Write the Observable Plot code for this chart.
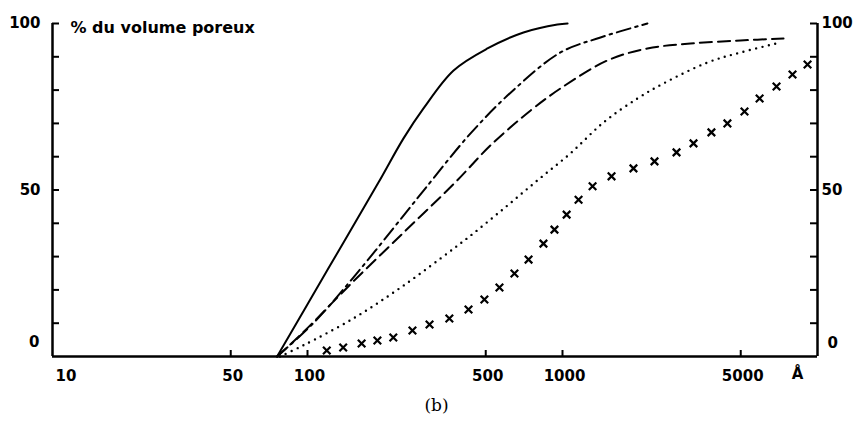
<!DOCTYPE html>
<html>
<head>
<meta charset="utf-8">
<script src="https://cdn.jsdelivr.net/npm/d3@7"></script>
<script src="https://cdn.jsdelivr.net/npm/@observablehq/plot@0.6"></script>
<style>
  html, body { margin: 0; padding: 0; background: #fff; }
  #chart svg { display: block; }
  #caption { width: 855px; margin-top: 4px; line-height: 22px; font-family: "DejaVu Serif", "Liberation Serif", serif; font-size: 17px; text-align: center; padding-left: 18px; box-sizing: border-box; }
</style>
</head>
<body>
<div id="chart"></div>
<div id="caption">(b)</div>
<script>
// Pore diameter (Å) vs cumulative % of pore volume
const courbePleine = [[76,0],[120,26.1],[190,52.3],[238,65.5],[285,74.5],[374,85.9],[508,92.5],[703,97.3],[955,99.7],[1047,100]];
const courbeMixte = [[76,0],[106,10.2],[157,25.2],[238,42.3],[290,50.5],[436,67.0],[640,79.9],[982,91.3],[1409,95.8],[2153,100]];
const courbeTirets = [[76,0],[96,7.2],[147,21.6],[238,37.2],[380,52.3],[522,63.4],[750,73.9],[982,80.5],[1500,88.9],[2153,92.5],[3175,94],[4990,94.9],[7360,95.5]];
const courbePoints = [[78,0],[96,3.3],[151,11.4],[238,21.3],[374,32.4],[436,36.3],[588,44.4],[798,52.9],[1074,61.0],[1449,70.3],[1968,77.5],[2489,82.0],[3704,88.3],[4990,91.3],[7160,94.3]];
const croix = [[119,1.8],[138,2.7],[163,3.9],[188,4.8],[217,5.7],[258,7.8],[301,9.6],[360,11.4],[428,14.1],[494,17.1],[566,20.7],[648,24.9],[736,29.1],[842,33.9],[930,38.1],[1038,42.6],[1156,47.1],[1312,51.1],[1557,54.1],[1898,56.5],[2295,58.6],[2800,61.3],[3264,64.0],[3837,67.3],[4433,70.0],[5172,73.6],[5928,77.5],[6907,81.1],[7980,84.7],[9140,87.7]];

const xTicks = [50, 100, 500, 1000, 5000];
const xTickLabels = ["50", "100", "500", "1000", "5000"];
const yTicks = [10, 20, 30, 40, 50, 60, 70, 80, 90, 100];
const yLabels = [50, 100];
const yTitle = "% du volume poreux";
const xUnit = "Å";

const toRows = arr => arr.map(([x, y]) => ({x, y}));
const font = {fontFamily: "DejaVu Sans, sans-serif", fontWeight: "bold", fontSize: 15, fill: "black"};
const frameW = 855 - 52 - 38;
const frameH = 390 - 23 - 34;

const chart = Plot.plot({
  width: 855,
  height: 390,
  marginLeft: 52,
  marginRight: 38,
  marginTop: 23,
  marginBottom: 34,
  x: {type: "log", domain: [10, 10000], axis: null},
  y: {domain: [0, 100], axis: null},
  marks: [
    // frame axes
    Plot.ruleX([10, 10000], {stroke: "black", strokeWidth: 2.5}),
    Plot.ruleY([0], {stroke: "black", strokeWidth: 2.5}),
    // inward ticks
    Plot.tickY(yTicks, {y: d => d, insetRight: frameW - 7, stroke: "black", strokeWidth: 2}),
    Plot.tickY(yTicks, {y: d => d, insetLeft: frameW - 7, stroke: "black", strokeWidth: 2}),
    Plot.tickX(xTicks, {x: d => d, insetTop: frameH - 6, stroke: "black", strokeWidth: 2}),
    // x labels
    Plot.text(xTicks, {x: d => d, text: (d, i) => xTickLabels[i], frameAnchor: "bottom", dy: 24, dx: 2, ...font}),
    Plot.text(["10"], {x: 10, text: d => d, frameAnchor: "bottom", dy: 24, dx: 3, textAnchor: "start", ...font}),
    Plot.text([xUnit], {x: 10000, text: d => d, frameAnchor: "bottom", dy: 22, dx: -20, ...font}),
    // y labels left
    Plot.text(yLabels, {y: d => d, text: d => String(d), frameAnchor: "left", dx: -12, textAnchor: "end", ...font}),
    Plot.text([0], {y: 0, text: d => "0", frameAnchor: "left", dx: -13, dy: -14, textAnchor: "end", ...font}),
    // y labels right
    Plot.text(yLabels, {y: d => d, text: d => String(d), frameAnchor: "right", dx: 4, textAnchor: "start", ...font}),
    Plot.text([0], {y: 0, text: d => "0", frameAnchor: "right", dx: 10, dy: -13, textAnchor: "start", ...font}),
    // title
    Plot.text([yTitle], {text: d => d, frameAnchor: "top-left", dx: 18, dy: -2, textAnchor: "start", ...font, fontSize: 16}),
    // curves
    Plot.line(toRows(courbePleine), {x: "x", y: "y", curve: "catmull-rom", stroke: "black", strokeWidth: 2}),
    Plot.line(toRows(courbeMixte), {x: "x", y: "y", curve: "catmull-rom", stroke: "black", strokeWidth: 2, strokeDasharray: "14,5,2.5,5"}),
    Plot.line(toRows(courbeTirets), {x: "x", y: "y", curve: "catmull-rom", stroke: "black", strokeWidth: 2, strokeDasharray: "12,6"}),
    Plot.line(toRows(courbePoints), {x: "x", y: "y", curve: "catmull-rom", stroke: "black", strokeWidth: 2.4, strokeDasharray: "0,6.5", strokeLinecap: "round"}),
    Plot.dot(toRows(croix), {x: "x", y: "y", symbol: "times", r: 3.5, stroke: "black", strokeWidth: 2.2})
  ]
});
document.getElementById("chart").appendChild(chart);
</script>
</body>
</html>
